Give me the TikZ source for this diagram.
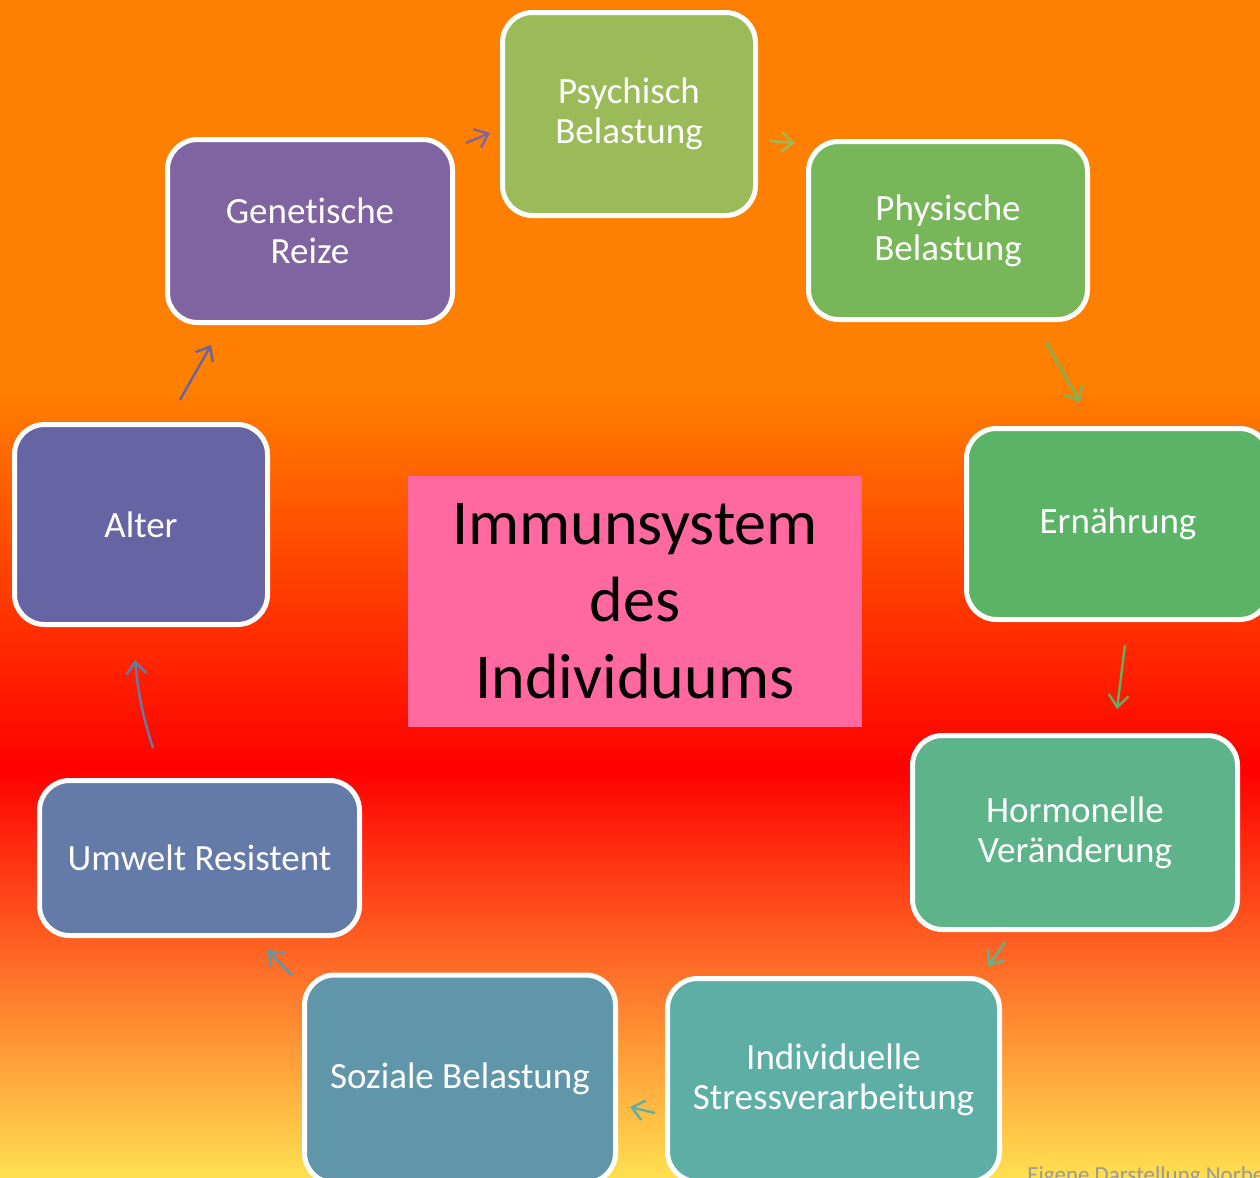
\documentclass[tikz,border=0pt]{standalone}
\usepackage{fontspec}
\setmainfont{Carlito}[Ligatures=NoCommon]
\usepackage{tikz}
\usetikzlibrary{arrows.meta,positioning,calc}
\definecolor{cgen}{HTML}{8064A2}
\definecolor{cpsy}{HTML}{9BBB59}
\definecolor{cphy}{HTML}{77B75A}
\definecolor{cern}{HTML}{5BB366}
\definecolor{chor}{HTML}{5DB38A}
\definecolor{cind}{HTML}{5DAFA6}
\definecolor{csoz}{HTML}{6096AA}
\definecolor{cumw}{HTML}{647BAA}
\definecolor{calt}{HTML}{6764A4}
\definecolor{cpink}{HTML}{FF69A0}
\definecolor{bgorange}{RGB}{255,127,0}
\definecolor{bgred}{RGB}{255,0,0}
\definecolor{bgyellow}{RGB}{255,224,80}

\begin{document}
\begin{tikzpicture}[x=0.5pt, y=-0.5pt,
    box/.style={rounded corners=15pt, draw=white, line width=2.5pt, text=white,
        align=center, inner sep=0pt, font=\fontsize{18.5}{20}\selectfont},
    arr/.style={line width=1.2pt, -{Straight Barb[length=6pt,width=10pt]}}]
\useasboundingbox (0,0) rectangle (1260,1178);
% background
\fill[bgorange] (0,0) rectangle (1260,390);
\shade[top color=bgorange, bottom color=bgred] (0,389) rectangle (1260,770);
\shade[top color=bgred, bottom color=bgyellow] (0,769) rectangle (1260,1178);

\node[box, fill=cgen, minimum width=142.5pt, minimum height=91.5pt] (gen) at (310,231) {Genetische\\Reize};
\node[box, fill=cpsy, minimum width=126.5pt, minimum height=101.5pt] (psy) at (629,114) {Psychisch\\Belastung};
\node[box, fill=cphy, minimum width=139.5pt, minimum height=89pt] (phy) at (948,230.5) {Physische\\Belastung};
\node[box, fill=cern, minimum width=151.5pt, minimum height=95.5pt] (ern) at (1118,524) {Ernährung};
\node[box, fill=chor, minimum width=162.5pt, minimum height=97pt] (hor) at (1075,832.5) {Hormonelle\\Veränderung};
\node[box, fill=cind, minimum width=166pt, minimum height=101.5pt] (ind) at (833.5,1080) {Individuelle\\Stressverarbeitung};
\node[box, fill=csoz, minimum width=155.5pt, minimum height=104pt] (soz) at (460,1079) {Soziale Belastung};
\node[box, fill=cumw, minimum width=160pt, minimum height=77.5pt] (umw) at (199.5,858) {Umwelt Resistent};
\node[box, fill=calt, minimum width=126.5pt, minimum height=100pt] (alt) at (141,524.5) {Alter};

\node[fill=cpink, minimum width=227pt, minimum height=125.5pt, inner sep=0pt, align=center,
    font=\fontsize{32}{38.5}\selectfont] (imm) at (635,601.5) {Immunsystem\\des\\Individuums};

\node[anchor=north west, inner sep=0pt, text=gray!80, font=\fontsize{11.5}{13}\selectfont] (src) at (1027,1166) {Eigene Darstellung Norbert};

% arrows
\draw[arr, cgen] ([shift={(11,6)}]gen.north east) -- ([shift={(-10,19)}]psy.west);
\draw[arr, cpsy] ([shift={(12,27)}]psy.east) -- ([shift={(-11,4)}]phy.north west);
\draw[arr, cphy] ([shift={(-44,20)}]phy.south east) -- ([shift={(-38,-24)}]ern.north);
\draw[arr, cern] ([shift={(7,23)}]ern.south) -- ([shift={(42,-24)}]hor.north);
\draw[arr, chor] ([shift={(95,10)}]hor.south west) -- ([shift={(-14,-10)}]ind.north east);
\draw[arr, cind] ([shift={(-10,33)}]ind.west) -- ([shift={(12,28)}]soz.east);
\draw[arr, csoz] ([shift={(-10,3)}]soz.north west) -- ([shift={(-94,12)}]umw.south east);
\draw[arr, cumw] ([shift={(-46.5,-30)}]umw.north) to[bend left=6] ([shift={(-6,33)}]alt.south);
\draw[arr, calt] ([shift={(39,-22)}]alt.north) -- ([shift={(46,20)}]gen.south west);
\end{tikzpicture}
\end{document}
